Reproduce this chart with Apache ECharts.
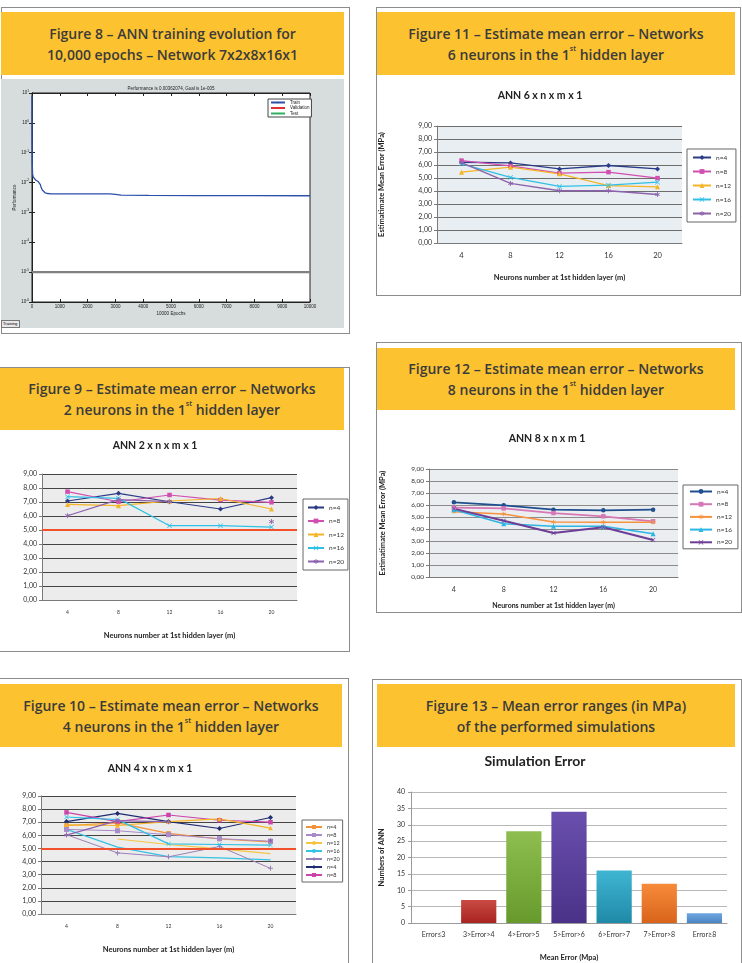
<!DOCTYPE html>
<html><head><meta charset="utf-8">
<script src="https://cdn.jsdelivr.net/npm/echarts/dist/echarts.min.js"></script>
<style>
html,body{margin:0;padding:0;background:#fff;}
body{width:742px;height:963px;position:relative;overflow:hidden;}
.panel{position:absolute;box-sizing:border-box;border:1px solid #8c8c8c;}
.hdr{position:absolute;background:#fcc230;color:#3b3b3b;font-family:'Open Sans',sans-serif;font-weight:600;font-size:14px;line-height:21px;text-align:center;display:flex;flex-direction:column;justify-content:center;}
.hdr sup{font-size:7px;vertical-align:top;line-height:9px;}
.gray{position:absolute;background:#d7dcdc;}
.btn{position:absolute;box-sizing:border-box;border:1px solid #777;background:#e8e8e8;font-family:'Liberation Sans';font-size:4px;line-height:6px;padding-left:1px;}
#chart{position:absolute;left:0;top:0;width:742px;height:963px;z-index:2;}
</style></head>
<body>
<div class="panel" style="left:1px;top:7px;width:349px;height:327px"></div>
<div class="hdr" style="left:1px;top:12px;width:343px;height:63px"><div>Figure 8 – ANN training evolution for</div><div>10,000 epochs – Network 7x2x8x16x1</div></div>
<div class="gray" style="left:1px;top:79px;width:343px;height:249px"></div>
<div class="btn" style="left:1px;top:320px;width:19px;height:8px">Training</div>

<div class="panel" style="left:376px;top:7px;width:365px;height:289px"></div>
<div class="hdr" style="left:377px;top:12px;width:358px;height:63px"><div>Figure 11 – Estimate mean error – Networks</div><div>6 neurons in the 1<sup>st</sup> hidden layer</div></div>

<div class="panel" style="left:-1px;top:367px;width:351px;height:285px"></div>
<div class="hdr" style="left:0px;top:368px;width:344px;height:62px"><div>Figure 9 – Estimate mean error – Networks</div><div>2 neurons in the 1<sup>st</sup> hidden layer</div></div>

<div class="panel" style="left:376px;top:342px;width:366px;height:271px"></div>
<div class="hdr" style="left:377px;top:348px;width:358px;height:62px"><div>Figure 12 – Estimate mean error – Networks</div><div>8 neurons in the 1<sup>st</sup> hidden layer</div></div>

<div class="panel" style="left:-1px;top:678px;width:350px;height:300px"></div>
<div class="hdr" style="left:0px;top:684px;width:342px;height:63px"><div>Figure 10 – Estimate mean error – Networks</div><div>4 neurons in the 1<sup>st</sup> hidden layer</div></div>

<div class="panel" style="left:372px;top:679px;width:370px;height:300px"></div>
<div class="hdr" style="left:377px;top:684px;width:358px;height:63px"><div>Figure 13 – Mean error ranges (in MPa)</div><div>of the performed simulations</div></div>

<div id="chart"></div>
<script>
// ---------- DATA ----------
// Figure 8: training curve
const epochs = [0, 3, 8, 20, 40, 80, 130, 180, 230, 270, 300, 330, 370, 420, 480, 560, 700, 1500, 2800, 3000, 3200, 4200, 6000, 8000, 10000];
const perfTrain = [8, 0.5, 0.05, 0.02, 0.0155, 0.0135, 0.0122, 0.0112, 0.0106, 0.0098, 0.0085, 0.0068, 0.0056, 0.0049, 0.0045, 0.0043, 0.0042, 0.0042, 0.0042, 0.0040, 0.0038, 0.0037, 0.00366, 0.00363, 0.00362];
const goalValue = 1e-5;
const epochRange = [0, 10000];

// Neurons in the 2nd hidden layer (categories)
const neurons = ['4', '8', '12', '16', '20'];

// Figure 11: ANN 6 x n x m x 1
const f11_n4  = [6.21, 6.16, 5.70, 5.96, 5.70];
const f11_n8  = [6.34, 5.93, 5.37, 5.45, 4.99];
const f11_n12 = [5.45, 5.83, 5.32, 4.42, 4.32];
const f11_n16 = [6.09, 5.04, 4.35, 4.45, 4.68];
const f11_n20 = [6.18, 4.58, 4.02, 4.02, 3.73];

// Figure 9: ANN 2 x n x m x 1
const f9_n4  = [7.07, 7.62, 7.02, 6.50, 7.31];
const f9_n8  = [7.74, 7.02, 7.50, 7.14, 6.98];
const f9_n12 = [6.83, 6.74, 7.07, 7.25, 6.50];
const f9_n16 = [7.38, 7.26, 5.31, 5.31, 5.21];
const f9_n20 = [6.02, 7.17, 7.02, null, 5.60];
const f9_ref = 5.0;

// Figure 12: ANN 8 x n x m 1
const f12_n4  = [6.22, 5.97, 5.61, 5.56, 5.61];
const f12_n8  = [5.78, 5.72, 5.33, 5.06, 4.64];
const f12_n12 = [5.44, 5.25, 4.58, 4.56, 4.56];
const f12_n16 = [5.61, 4.44, 4.22, 4.22, 3.61];
const f12_n20 = [5.70, 4.69, 3.67, 4.14, 3.08];

// Figure 10: ANN 4 x n x m x 1 (legend series)
const f10_n4a  = [6.75, 6.95, 6.15, 5.72, 5.50];
const f10_n8a  = [6.45, 6.35, 6.05, 5.75, 5.55];
const f10_n12  = [null, 5.72, 5.30, 4.97, 4.60];
const f10_n16  = [6.45, 5.10, 4.38, 4.28, 4.13];
const f10_n20  = [6.05, 4.66, 4.36, 5.15, 3.48];
const f10_n4b  = [7.05, 7.67, 7.05, 6.52, 7.36];
const f10_n8b  = [7.75, 7.05, 7.55, 7.15, 7.00];
// Figure 10: additional unlabelled lines
const f10_x12  = [6.80, 6.75, 7.05, 7.25, 6.55];
const f10_x16  = [7.40, 7.20, 5.35, 5.30, 5.25];
const f10_x20  = [6.02, 7.12, 7.02, null, 5.60];
const f10_ref = 5.0;

// Figure 13: Simulation error
const errCats = ['Error≤3', '3>Error>4', '4>Error>5', '5>Error>6', '6>Error>7', '7>Error>8', 'Error≥8'];
const errCounts = [0, 7, 28, 34, 16, 12, 3];

// ---------- STYLE ----------
const barColors = [['#c94a44','#a82420'],['#c94a44','#a82420'],['#8dbe4f','#679a2c'],['#6a4fae','#4a3288'],['#3fb5d2','#1f8aa8'],['#f78b3a','#d8641a'],['#6fa6e0','#4c85c4']];
const SYM_X = 'path://M1,0L5,4L9,0L10,1L6,5L10,9L9,10L5,6L1,10L0,9L4,5L0,1Z';
const SYM_STAR = 'path://M4.2,0H5.8V3.6L8.9,1.8L9.7,3.2L6.6,5L9.7,6.8L8.9,8.2L5.8,6.4V10H4.2V6.4L1.1,8.2L0.3,6.8L3.4,5L0.3,3.2L1.1,1.8L4.2,3.6Z';
const SYM_PLUS = 'path://M4,0H6V4H10V6H6V10H4V6H0V4H4Z';
const SYM_DASH = 'path://M0,4H10V6H0Z';
const FONT = 'Lato';

function fmtY(v){ return v.toFixed(2).replace('.', ','); }
function catX(gi, fs, name, nameGap, margin, nfs){
  return {type:'category', gridIndex:gi, data:neurons, boundaryGap:true,
    axisLine:{lineStyle:{color:'#7a7a7a'}}, axisTick:{length:3, lineStyle:{color:'#7a7a7a'}},
    axisLabel:{fontSize:fs, color:'#333', fontFamily:FONT, margin:margin},
    name:name, nameLocation:'middle', nameGap:nameGap,
    nameTextStyle:{fontFamily:FONT, fontWeight:'bold', fontSize:nfs, color:'#222'}};
}
function valY(gi, fs, name, nameGap, grid){
  return {type:'value', gridIndex:gi, min:0, max:9, interval:1,
    axisLine:{show:true, lineStyle:{color:'#7a7a7a'}}, axisTick:{show:true, length:3, lineStyle:{color:'#7a7a7a'}},
    axisLabel:{fontSize:fs, color:'#333', fontFamily:FONT, formatter:fmtY, margin:5},
    splitLine:{lineStyle:{color:grid, width:1}},
    name:name, nameLocation:'middle', nameGap:nameGap,
    nameTextStyle:{fontFamily:FONT, fontWeight:'bold', fontSize:7.5, color:'#222'}};
}
function ln(name, data, idx, color, symbol, size, width){
  return {type:'line', name:name, data:data, xAxisIndex:idx, yAxisIndex:idx, symbol:symbol, symbolSize:size,
    showSymbol:symbol !== 'none', lineStyle:{color:color, width:width}, itemStyle:{color:color, borderColor:color, borderWidth:0},
    connectNulls:false, z:3};
}
function legendFor(names, left, top, opts){
  return Object.assign({data:names, orient:'vertical', left:left, top:top, backgroundColor:'#fff',
    borderColor:'#666', borderWidth:1, formatter:function(n){return n.split('#')[0];},
    textStyle:{fontSize:6.5, fontFamily:FONT, color:'#333'}}, opts);
}
function supLabel(v){ const e = Math.round(Math.log10(v)); return '{b|10}{s|' + e + '}'; }

const trainData = epochs.map((e, i) => [e, perfTrain[i]]);
const goalData = epochRange.map(e => [e, goalValue]);

const titleStyle = {fontSize:10.5, fontWeight:'bold', fontFamily:FONT, color:'#222'};

const option = {
  animation:false,
  backgroundColor:'transparent',
  title:[
    {text:'Performance is 0.00362074, Goal is 1e-005', left:171, top:86, textAlign:'center', padding:0,
      textStyle:{fontSize:4.5, fontWeight:'normal', fontFamily:'Liberation Sans', color:'#222'}},
    {text:'ANN 6 x n x m x 1', left:540, top:90, textAlign:'center', padding:0, textStyle:titleStyle},
    {text:'ANN 2 x n x m x 1', left:155, top:440, textAlign:'center', padding:0, textStyle:titleStyle},
    {text:'ANN 8 x n x m 1', left:547, top:433, textAlign:'center', padding:0, textStyle:titleStyle},
    {text:'ANN 4 x n x m x 1', left:150, top:763, textAlign:'center', padding:0, textStyle:titleStyle},
    {text:'Simulation Error', left:535, top:754, textAlign:'center', padding:0,
      textStyle:{fontSize:14, fontWeight:'bold', fontFamily:FONT, color:'#222'}}
  ],
  grid:[
    {left:32, top:93, width:278, height:209, show:true, backgroundColor:'#fff', borderColor:'#222', borderWidth:1},
    {left:437, top:126, width:245, height:117, show:true, backgroundColor:'#e9eef2', borderWidth:0},
    {left:42, top:474, width:255, height:126, show:true, backgroundColor:'#ececec', borderWidth:0},
    {left:429, top:469, width:249, height:108, show:true, backgroundColor:'#eaeef1', borderWidth:0},
    {left:41, top:796, width:255, height:118, show:true, backgroundColor:'#ececec', borderWidth:0},
    {left:411, top:792, width:316, height:131, show:false}
  ],
  legend:[
    legendFor(['Train','Validation','Test'], 268, 99, {padding:[1,2,1,2], itemGap:0.5, itemWidth:14, itemHeight:2,
      borderColor:'#444', textStyle:{fontSize:4.5, fontFamily:'Liberation Sans', color:'#222'}}),
    legendFor(['n=4#11','n=8#11','n=12#11','n=16#11','n=20#11'], 687, 149, {padding:[5,5,5,5], itemGap:7, itemWidth:18, itemHeight:6}),
    legendFor(['n=4#9','n=8#9','n=12#9','n=16#9','n=20#9'], 303, 499, {padding:[5,4,5,4], itemGap:6.5, itemWidth:16, itemHeight:6}),
    legendFor(['n=4#12','n=8#12','n=12#12','n=16#12','n=20#12'], 683, 485, {padding:[3,6,3,6], itemGap:5.7, itemWidth:22, itemHeight:6}),
    legendFor(['n=4#10a','n=8#10a','n=12#10','n=16#10','n=20#10','n=4#10b','n=8#10b'], 302, 820, {padding:[4,3,4,3], itemGap:2, itemWidth:16, itemHeight:5,
      textStyle:{fontSize:5.5, fontFamily:FONT, color:'#333'}})
  ],
  xAxis:[
    {type:'value', gridIndex:0, min:0, max:10000, interval:1000, position:'bottom',
      axisLine:{lineStyle:{color:'#222'}}, axisTick:{inside:true, length:3, lineStyle:{color:'#222'}},
      axisLabel:{fontSize:4.5, color:'#222', fontFamily:'Liberation Sans', margin:2, formatter:function(v){return String(v);}}, splitLine:{show:false},
      name:'10000 Epochs', nameLocation:'middle', nameGap:9, nameTextStyle:{fontSize:4.5, fontFamily:'Liberation Sans', color:'#222'}},
    {type:'value', gridIndex:0, min:0, max:10000, interval:1000, position:'top',
      axisLine:{lineStyle:{color:'#222'}}, axisTick:{inside:true, length:3, lineStyle:{color:'#222'}},
      axisLabel:{show:false}, splitLine:{show:false}},
    catX(1, 7.5, 'Neurons number at 1st hidden layer (m)', 31, 9, 7.5),
    catX(2, 5, 'Neurons number at 1st hidden layer (m)', 32, 10, 7.5),
    catX(3, 7, 'Neurons number at 1st hidden layer (m)', 25, 9, 7),
    catX(4, 5, 'Neurons number at 1st hidden layer (m)', 32, 10, 7.5),
    {type:'category', gridIndex:5, data:errCats, boundaryGap:true,
      axisLine:{lineStyle:{color:'#9a9a9a'}}, axisTick:{length:3, lineStyle:{color:'#9a9a9a'}},
      axisLabel:{fontSize:7, color:'#333', fontFamily:FONT, margin:8, interval:0},
      name:'Mean Error (Mpa)', nameLocation:'middle', nameGap:31,
      nameTextStyle:{fontFamily:FONT, fontWeight:'bold', fontSize:7.5, color:'#222'}}
  ],
  yAxis:[
    {type:'log', gridIndex:0, min:1e-6, max:10, interval:1, logBase:10,
      axisLine:{lineStyle:{color:'#222'}}, axisTick:{inside:true, length:3, lineStyle:{color:'#222'}},
      axisLabel:{formatter:supLabel, margin:3, color:'#222',
        rich:{b:{fontSize:4.5, fontFamily:'Liberation Sans', color:'#222', lineHeight:7},
              s:{fontSize:3.2, fontFamily:'Liberation Sans', color:'#222', verticalAlign:'top', lineHeight:7}}},
      splitLine:{show:false}, minorTick:{show:false},
      name:'Performance', nameLocation:'middle', nameGap:14,
      nameTextStyle:{fontSize:4.5, fontFamily:'Liberation Sans', color:'#222'}},
    {type:'log', gridIndex:0, min:1e-6, max:10, interval:1, logBase:10, position:'right',
      axisLine:{lineStyle:{color:'#222'}}, axisTick:{inside:true, length:3, lineStyle:{color:'#222'}},
      axisLabel:{show:false}, splitLine:{show:false}},
    valY(1, 7, 'Estimatimate Mean Error (MPa)', 51, '#6d6d6d'),
    valY(2, 7, '', 30, '#444'),
    valY(3, 6.5, 'Estimatimate Mean Error (MPa)', 42, '#8a8a8a'),
    valY(4, 7, '', 30, '#444'),
    {type:'value', gridIndex:5, min:0, max:40, interval:5,
      axisLine:{show:true, lineStyle:{color:'#9a9a9a'}}, axisTick:{show:true, length:3, lineStyle:{color:'#9a9a9a'}},
      axisLabel:{fontSize:7, color:'#333', fontFamily:FONT, margin:6},
      splitLine:{lineStyle:{color:'#b8b8b8'}},
      name:'Numbers of ANN', nameLocation:'middle', nameGap:25,
      nameTextStyle:{fontFamily:FONT, fontWeight:'bold', fontSize:7.5, color:'#222'}}
  ],
  series:[
    // Figure 8
    {type:'line', name:'Train', data:trainData, xAxisIndex:0, yAxisIndex:0, symbol:'none', lineStyle:{color:'#2c4fa8', width:1.3}, itemStyle:{color:'#2c4fa8'}, z:4},
    {type:'line', name:'Validation', data:[], xAxisIndex:0, yAxisIndex:0, symbol:'none', lineStyle:{color:'#e03030', width:1}, itemStyle:{color:'#e03030'}},
    {type:'line', name:'Test', data:[], xAxisIndex:0, yAxisIndex:0, symbol:'none', lineStyle:{color:'#30b060', width:1}, itemStyle:{color:'#30b060'}},
    {type:'line', name:'Goal', data:goalData, xAxisIndex:0, yAxisIndex:0, symbol:'none', lineStyle:{color:'#808080', width:2.2}, itemStyle:{color:'#808080'}},
    // Figure 11
    ln('n=4#11', f11_n4, 2, '#2b3b86', 'diamond', 5, 1.3),
    ln('n=8#11', f11_n8, 2, '#d04fb0', 'rect', 4.5, 1.3),
    ln('n=12#11', f11_n12, 2, '#f5b526', 'triangle', 5, 1.3),
    ln('n=16#11', f11_n16, 2, '#2fc0e6', SYM_X, 5, 1.3),
    ln('n=20#11', f11_n20, 2, '#8d62ad', SYM_STAR, 5, 1.3),
    // Figure 9
    Object.assign(ln('n=4#9', f9_n4, 3, '#2b3b86', 'diamond', 5, 1.2),
      {markLine:{silent:true, symbol:'none', label:{show:false}, lineStyle:{color:'#f2502a', width:2, type:'solid'}, data:[{yAxis:f9_ref}]}}),
    ln('n=8#9', f9_n8, 3, '#d04fb0', 'rect', 4.5, 1.2),
    ln('n=12#9', f9_n12, 3, '#f5b526', 'triangle', 5, 1.2),
    ln('n=16#9', f9_n16, 3, '#2fc0e6', SYM_X, 5, 1.2),
    ln('n=20#9', f9_n20, 3, '#8d62ad', SYM_STAR, 5, 1.2),
    // Figure 12
    ln('n=4#12', f12_n4, 4, '#1f4f8e', 'circle', 4.5, 1.8),
    ln('n=8#12', f12_n8, 4, '#d677b6', 'rect', 4.5, 1.8),
    ln('n=12#12', f12_n12, 4, '#f7923e', SYM_STAR, 4.5, 1.5),
    ln('n=16#12', f12_n16, 4, '#2db6e3', 'triangle', 5, 1.5),
    ln('n=20#12', f12_n20, 4, '#6e3d96', SYM_X, 4.5, 2),
    // Figure 10
    Object.assign(ln('n=4#10a', f10_n4a, 5, '#f39238', 'rect', 4.5, 1.2),
      {markLine:{silent:true, symbol:'none', label:{show:false}, lineStyle:{color:'#f2502a', width:2, type:'solid'}, data:[{yAxis:f10_ref}]}}),
    ln('n=8#10a', f10_n8a, 5, '#a98bc9', SYM_DASH, 5, 1),
    ln('n=12#10', f10_n12, 5, '#f6c443', 'none', 0, 1.2),
    ln('n=16#10', f10_n16, 5, '#37c2e3', 'none', 0, 1.2),
    ln('n=20#10', f10_n20, 5, '#9a80b8', SYM_PLUS, 5, 1),
    ln('n=4#10b', f10_n4b, 5, '#1f2d70', 'diamond', 5, 1.2),
    ln('n=8#10b', f10_n8b, 5, '#cc44aa', 'rect', 4.5, 1.2),
    ln('x12#10', f10_x12, 5, '#f5b526', 'triangle', 4.5, 1.2),
    ln('x16#10', f10_x16, 5, '#2fc0e6', SYM_X, 4.5, 1.2),
    ln('x20#10', f10_x20, 5, '#8d62ad', SYM_STAR, 4.5, 1.2),
    // Figure 13
    {type:'bar', name:'Simulation Error', xAxisIndex:6, yAxisIndex:6, barCategoryGap:'22%',
      data:errCounts.map((v, i) => ({value:v, itemStyle:{color:new echarts.graphic.LinearGradient(0,0,0,1,[{offset:0,color:barColors[i][0]},{offset:1,color:barColors[i][1]}])}}))}
  ]
};
const chart = echarts.init(document.getElementById('chart'), null, {renderer:'canvas'});
chart.setOption(option);
</script>
</body></html>
